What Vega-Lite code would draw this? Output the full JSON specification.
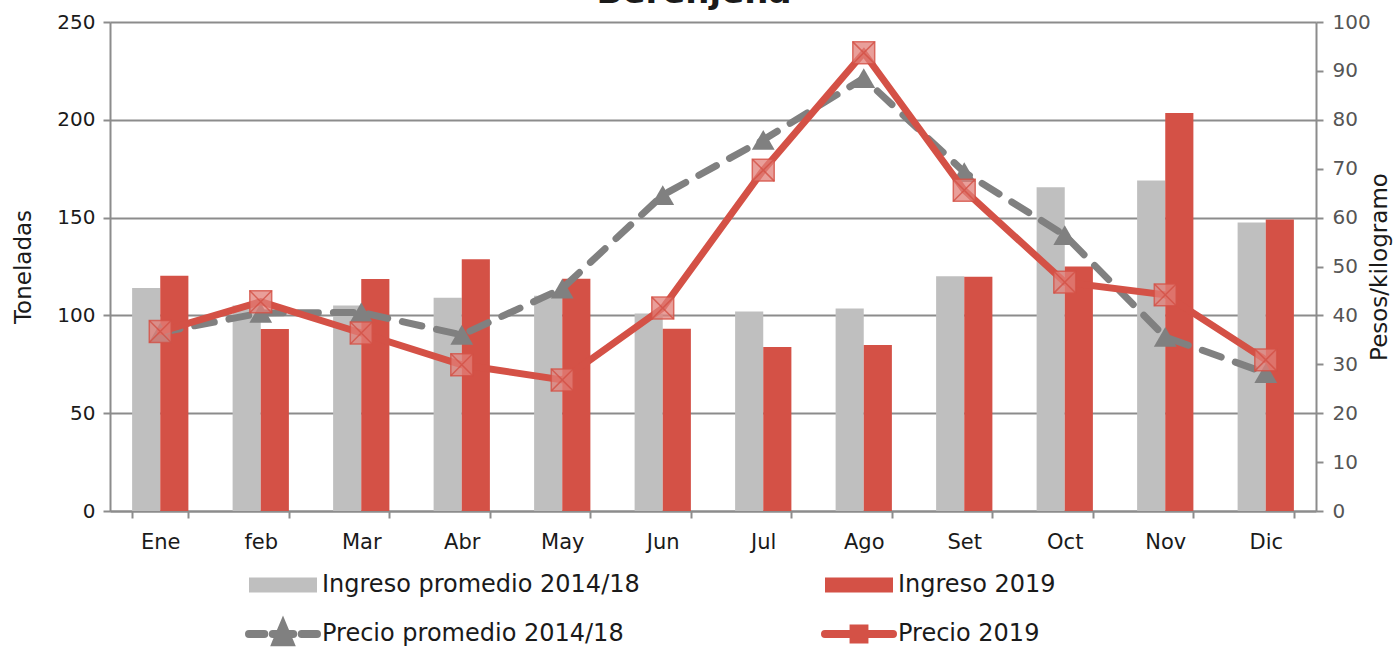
{
  "$schema": "https://vega.github.io/schema/vega-lite/v6.json",
  "autosize": {"type": "none"},
  "width": 1206,
  "height": 489,
  "padding": {"left": 110, "top": 22, "right": 79, "bottom": 136},
  "background": "white",
  "title": {"text": "Berenjena", "fontSize": 34, "fontWeight": "bold", "font": "DejaVu Sans", "color": "#1a1a1a", "anchor": "middle", "offset": -25, "dx": -19, "baseline": "alphabetic"},
  "config": {
    "font": "DejaVu Sans",
    "view": {"stroke": null},
    "axis": {"labelFont": "DejaVu Sans", "titleFont": "DejaVu Sans", "labelFontSize": 20, "labelColor": "#1a1a1a", "titleFontSize": 23, "titleFontWeight": "normal", "titleColor": "#1a1a1a", "domainColor": "#8c8c8c", "domainWidth": 2, "tickColor": "#8c8c8c", "tickWidth": 2, "tickSize": 7, "gridColor": "#8c8c8c", "gridWidth": 2}
  },
  "datasets": {
    "barras": [
      {"mes": "Ene", "serie": "Ingreso promedio 2014/18", "t": 114},
      {"mes": "feb", "serie": "Ingreso promedio 2014/18", "t": 105},
      {"mes": "Mar", "serie": "Ingreso promedio 2014/18", "t": 105},
      {"mes": "Abr", "serie": "Ingreso promedio 2014/18", "t": 109},
      {"mes": "May", "serie": "Ingreso promedio 2014/18", "t": 110},
      {"mes": "Jun", "serie": "Ingreso promedio 2014/18", "t": 101},
      {"mes": "Jul", "serie": "Ingreso promedio 2014/18", "t": 102},
      {"mes": "Ago", "serie": "Ingreso promedio 2014/18", "t": 103.5},
      {"mes": "Set", "serie": "Ingreso promedio 2014/18", "t": 120},
      {"mes": "Oct", "serie": "Ingreso promedio 2014/18", "t": 165.5},
      {"mes": "Nov", "serie": "Ingreso promedio 2014/18", "t": 169},
      {"mes": "Dic", "serie": "Ingreso promedio 2014/18", "t": 147.5},
      {"mes": "Ene", "serie": "Ingreso 2019", "t": 120.3},
      {"mes": "feb", "serie": "Ingreso 2019", "t": 93},
      {"mes": "Mar", "serie": "Ingreso 2019", "t": 118.6},
      {"mes": "Abr", "serie": "Ingreso 2019", "t": 128.7},
      {"mes": "May", "serie": "Ingreso 2019", "t": 118.8},
      {"mes": "Jun", "serie": "Ingreso 2019", "t": 93.2},
      {"mes": "Jul", "serie": "Ingreso 2019", "t": 83.8},
      {"mes": "Ago", "serie": "Ingreso 2019", "t": 84.9},
      {"mes": "Set", "serie": "Ingreso 2019", "t": 119.8},
      {"mes": "Oct", "serie": "Ingreso 2019", "t": 125},
      {"mes": "Nov", "serie": "Ingreso 2019", "t": 203.5},
      {"mes": "Dic", "serie": "Ingreso 2019", "t": 149}
    ],
    "precios": [
      {"mes": "Ene", "serie": "Precio promedio 2014/18", "p": 36.5},
      {"mes": "feb", "serie": "Precio promedio 2014/18", "p": 40.5},
      {"mes": "Mar", "serie": "Precio promedio 2014/18", "p": 40.6},
      {"mes": "Abr", "serie": "Precio promedio 2014/18", "p": 36},
      {"mes": "May", "serie": "Precio promedio 2014/18", "p": 45.5},
      {"mes": "Jun", "serie": "Precio promedio 2014/18", "p": 64.6},
      {"mes": "Jul", "serie": "Precio promedio 2014/18", "p": 75.9},
      {"mes": "Ago", "serie": "Precio promedio 2014/18", "p": 88.5},
      {"mes": "Set", "serie": "Precio promedio 2014/18", "p": 69.3},
      {"mes": "Oct", "serie": "Precio promedio 2014/18", "p": 56.4},
      {"mes": "Nov", "serie": "Precio promedio 2014/18", "p": 35.6},
      {"mes": "Dic", "serie": "Precio promedio 2014/18", "p": 28.2},
      {"mes": "Ene", "serie": "Precio 2019", "p": 36.7},
      {"mes": "feb", "serie": "Precio 2019", "p": 42.8},
      {"mes": "Mar", "serie": "Precio 2019", "p": 36.4},
      {"mes": "Abr", "serie": "Precio 2019", "p": 29.9},
      {"mes": "May", "serie": "Precio 2019", "p": 26.8},
      {"mes": "Jun", "serie": "Precio 2019", "p": 41.5},
      {"mes": "Jul", "serie": "Precio 2019", "p": 69.7},
      {"mes": "Ago", "serie": "Precio 2019", "p": 93.7},
      {"mes": "Set", "serie": "Precio 2019", "p": 65.6},
      {"mes": "Oct", "serie": "Precio 2019", "p": 46.8},
      {"mes": "Nov", "serie": "Precio 2019", "p": 44.2},
      {"mes": "Dic", "serie": "Precio 2019", "p": 30.9}
    ]
  },
  "layer": [
    {
      "data": {"name": "barras"},
      "mark": {"type": "bar"},
      "encoding": {
        "x": {"field": "mes", "type": "nominal", "sort": ["Ene","feb","Mar","Abr","May","Jun","Jul","Ago","Set","Oct","Nov","Dic"],
              "scale": {"paddingInner": 0.44, "paddingOuter": 0.22},
              "axis": {"title": null, "labelAngle": 0, "tickBand": "extent", "grid": false, "labelPadding": 13, "labelFontSize": 21}},
        "xOffset": {"field": "serie", "sort": ["Ingreso promedio 2014/18", "Ingreso 2019"], "scale": {"paddingInner": 0, "paddingOuter": 0}},
        "y": {"field": "t", "type": "quantitative", "scale": {"domain": [0, 250]},
              "axis": {"title": "Toneladas", "values": [0, 50, 100, 150, 200, 250], "grid": true, "labelPadding": 8, "titlePadding": 21}},
        "color": {"field": "serie", "type": "nominal",
                  "scale": {"domain": ["Ingreso promedio 2014/18", "Ingreso 2019", "Precio promedio 2014/18", "Precio 2019"], "range": ["#bfbfbf", "#d45146", "#808080", "#d45146"]},
                  "legend": {"orient": "none", "direction": "horizontal", "legendX": 161, "legendY": 551, "columns": 2, "columnPadding": 169, "rowPadding": 12, "title": null,
                             "labelFont": "DejaVu Sans", "labelFontSize": 24, "labelColor": "#1a1a1a", "labelOffset": 27, "labelLimit": 500, "symbolSize": 4624, "symbolType": "M-1,-0.22H1V0.22H-1Z",
                             "encode": {"symbols": {"update": {
                               "shape": {"signal": "datum.value === 'Precio promedio 2014/18' ? 'M-1,0H-0.55M-0.3,0H0.3M0.55,0H1M-0.2,0.24L0,-0.24L0.2,0.24Z' : datum.value === 'Precio 2019' ? 'M-1,0H1M-0.16,-0.16H0.16V0.16H-0.16Z' : 'M-1,-0.22H1V0.22H-1Z'"},
                               "stroke": {"signal": "datum.value === 'Precio promedio 2014/18' ? '#808080' : datum.value === 'Precio 2019' ? '#d45146' : 'transparent'"},
                               "fill": {"signal": "datum.value === 'Ingreso promedio 2014/18' ? '#bfbfbf' : datum.value === 'Precio promedio 2014/18' ? '#808080' : datum.value === 'Precio 2019' ? '#e27f78' : '#d45146'"},
                               "strokeWidth": {"signal": "(datum.value === 'Precio promedio 2014/18' || datum.value === 'Precio 2019') ? 8 : 0"},
                               "strokeCap": {"value": "round"},
                               "opacity": {"value": 1}
                             }}}}}
      }
    },
    {
      "data": {"name": "precios"},
      "encoding": {
        "x": {"field": "mes", "type": "nominal", "sort": ["Ene","feb","Mar","Abr","May","Jun","Jul","Ago","Set","Oct","Nov","Dic"]},
        "y": {"field": "p", "type": "quantitative", "scale": {"domain": [0, 100]},
              "axis": {"orient": "right", "title": "Pesos/kilogramo", "titleAngle": 270, "titleBaseline": "top", "values": [0,10,20,30,40,50,60,70,80,90,100], "grid": false, "labelPadding": 9, "titlePadding": -2, "labelColor": "#555555"}}
      },
      "layer": [
        {"transform": [{"filter": "datum.serie === 'Precio promedio 2014/18'"}],
         "mark": {"type": "line", "color": "#808080", "strokeWidth": 7, "strokeDash": [20, 15], "strokeCap": "round"}},
        {"transform": [{"filter": "datum.serie === 'Precio promedio 2014/18'"}],
         "mark": {"type": "point", "shape": "triangle-up", "filled": true, "color": "#808080", "opacity": 1, "size": 520}},
        {"transform": [{"filter": "datum.serie === 'Precio 2019'"}],
         "mark": {"type": "line", "color": "#d45146", "strokeWidth": 7, "strokeCap": "round"}},
        {"transform": [{"filter": "datum.serie === 'Precio 2019'"}],
         "mark": {"type": "point", "shape": "square", "filled": true, "fill": "#e27f78", "fillOpacity": 0.75, "stroke": "#d45146", "strokeWidth": 1.5, "strokeOpacity": 0.8, "size": 480}},
        {"transform": [{"filter": "datum.serie === 'Precio 2019'"}],
         "mark": {"type": "point", "shape": "M-1,-1L1,1M-1,1L1,-1", "filled": false, "stroke": "#d45146", "strokeWidth": 1.5, "opacity": 0.8, "size": 480}}
      ]
    }
  ],
  "resolve": {"scale": {"y": "independent"}}
}
